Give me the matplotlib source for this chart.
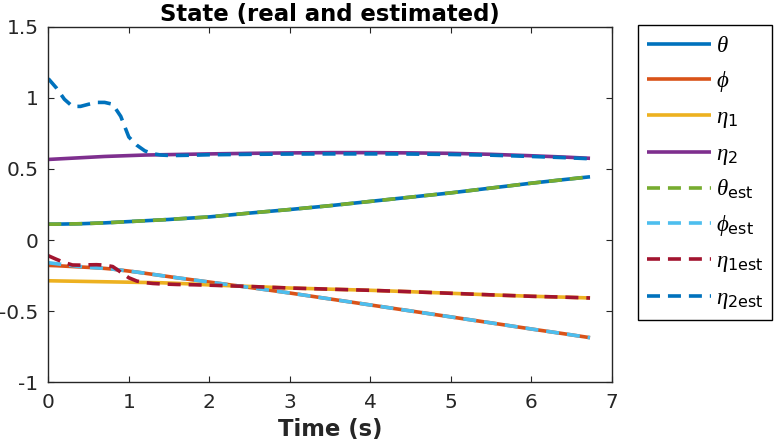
import matplotlib
matplotlib.use("Agg")
import matplotlib.pyplot as plt

plt.rcParams['mathtext.fontset'] = 'custom'
plt.rcParams['mathtext.it'] = 'Liberation Serif:italic'
plt.rcParams['mathtext.rm'] = 'DejaVu Sans'
plt.rcParams['mathtext.fallback'] = 'stix'

# ---- data ----
t = [0.0, 0.1, 0.2, 0.3, 0.4, 0.5, 0.6, 0.7, 0.8, 0.9, 1.0, 1.1, 1.2, 1.3, 1.4,
     1.5, 1.6, 1.8, 2.0, 2.5, 3.0, 3.5, 4.0, 4.5, 5.0, 5.5, 6.0, 6.4, 6.73]

theta = [0.112, 0.112, 0.113, 0.114, 0.115, 0.117, 0.119, 0.121, 0.124, 0.127,
         0.130, 0.133, 0.136, 0.139, 0.142, 0.145, 0.149, 0.156, 0.163, 0.190,
         0.215, 0.242, 0.272, 0.302, 0.332, 0.366, 0.400, 0.425, 0.445]
phi = [-0.178, -0.180, -0.183, -0.186, -0.189, -0.192, -0.195, -0.199, -0.204,
       -0.211, -0.218, -0.225, -0.233, -0.241, -0.249, -0.257, -0.265, -0.280,
       -0.295, -0.333, -0.372, -0.414, -0.456, -0.498, -0.540, -0.582, -0.625,
       -0.658, -0.686]
eta1 = [-0.286, -0.287, -0.288, -0.289, -0.290, -0.291, -0.292, -0.293, -0.294,
        -0.295, -0.296, -0.297, -0.298, -0.299, -0.300, -0.302, -0.304, -0.309,
        -0.315, -0.326, -0.337, -0.345, -0.353, -0.363, -0.374, -0.385, -0.395,
        -0.401, -0.407]
eta2 = [0.567, 0.570, 0.573, 0.576, 0.579, 0.582, 0.585, 0.588, 0.590, 0.592,
        0.594, 0.596, 0.598, 0.599, 0.600, 0.601, 0.602, 0.604, 0.606, 0.610,
        0.613, 0.615, 0.615, 0.613, 0.610, 0.603, 0.593, 0.584, 0.575]

theta_est = [0.112, 0.112, 0.113, 0.114, 0.115, 0.117, 0.119, 0.121, 0.124, 0.127,
             0.130, 0.133, 0.136, 0.139, 0.142, 0.145, 0.149, 0.156, 0.163, 0.190,
             0.215, 0.242, 0.272, 0.302, 0.332, 0.366, 0.400, 0.425, 0.445]
phi_est = [-0.159, -0.166, -0.173, -0.180, -0.186, -0.191, -0.195, -0.199, -0.204,
           -0.211, -0.218, -0.225, -0.233, -0.241, -0.249, -0.257, -0.265, -0.280,
           -0.295, -0.333, -0.372, -0.414, -0.456, -0.498, -0.540, -0.582, -0.625,
           -0.658, -0.686]
eta1_est = [-0.110, -0.135, -0.158, -0.175, -0.176, -0.174, -0.173, -0.176, -0.186,
            -0.225, -0.265, -0.288, -0.299, -0.305, -0.308, -0.310, -0.312, -0.314,
            -0.317, -0.326, -0.337, -0.345, -0.353, -0.363, -0.374, -0.385, -0.395,
            -0.401, -0.407]
eta2_est = [1.135, 1.070, 0.990, 0.940, 0.940, 0.955, 0.968, 0.968, 0.955, 0.870,
            0.725, 0.667, 0.627, 0.607, 0.598, 0.595, 0.595, 0.597, 0.600, 0.603,
            0.605, 0.606, 0.606, 0.605, 0.602, 0.597, 0.588, 0.580, 0.572]

labels = [r'$\theta$', r'$\phi$', r'$\eta_{\mathrm{1}}$', r'$\eta_{\mathrm{2}}$',
          r'$\theta_{\mathrm{est}}$', r'$\phi_{\mathrm{est}}$',
          r'$\eta_{\mathrm{1est}}$', r'$\eta_{\mathrm{2est}}$']
xticks = [0, 1, 2, 3, 4, 5, 6, 7]
yticks = [-1, -0.5, 0, 0.5, 1, 1.5]
yticklabels = ['-1', '-0.5', '0', '0.5', '1', '1.5']

colors = ['#0072BD', '#D95319', '#EDB120', '#7E2F8E',
          '#77AC30', '#4DBEEE', '#A2142F', '#0072BD']

# ---- figure ----
fig = plt.figure(figsize=(7.74, 4.42), dpi=100)
ax = fig.add_axes([0.0624, 0.135, 0.728, 0.8045])

series = [theta, phi, eta1, eta2, theta_est, phi_est, eta1_est, eta2_est]
handles = []
for i, (y, c, lab) in enumerate(zip(series, colors, labels)):
    if i < 4:
        h, = ax.plot(t, y, color=c, lw=2.6, label=lab, solid_capstyle='butt')
    else:
        h, = ax.plot(t, y, color=c, lw=2.6, label=lab, linestyle=(0, (3.6, 2.2)),
                     dash_capstyle='butt')
    handles.append(h)

ax.set_xlim(0, 7)
ax.set_ylim(-1, 1.5)
ax.set_xticks(xticks)
ax.set_xticklabels([str(v) for v in xticks])
ax.set_yticks(yticks)
ax.set_yticklabels(yticklabels)

edge = '#262626'
for s in ax.spines.values():
    s.set_color(edge)
    s.set_linewidth(1.0)
ax.tick_params(direction='in', length=4, width=0.8, colors=edge, labelsize=14.5,
               top=True, right=True)
ax.tick_params(axis='x', pad=8)
ax.tick_params(axis='y', pad=7)
for lab in ax.get_xticklabels() + ax.get_yticklabels():
    lab.set_color('#262626')

ax.set_title('State (real and estimated)', fontsize=16.4, fontweight='bold', pad=4)
ax.set_xlabel('Time (s)', fontsize=16.4, fontweight='bold', labelpad=4, color='#262626')

leg = fig.legend(handles=handles, loc='upper left', bbox_to_anchor=(0.824, 0.943),
                 fontsize=16.5, frameon=True, fancybox=False, framealpha=1,
                 edgecolor='black', handlelength=2.8, handletextpad=0.2,
                 labelspacing=0.5, borderpad=0.4, borderaxespad=0)
leg.get_frame().set_linewidth(1.0)

fig.savefig('out.png', dpi=100)
